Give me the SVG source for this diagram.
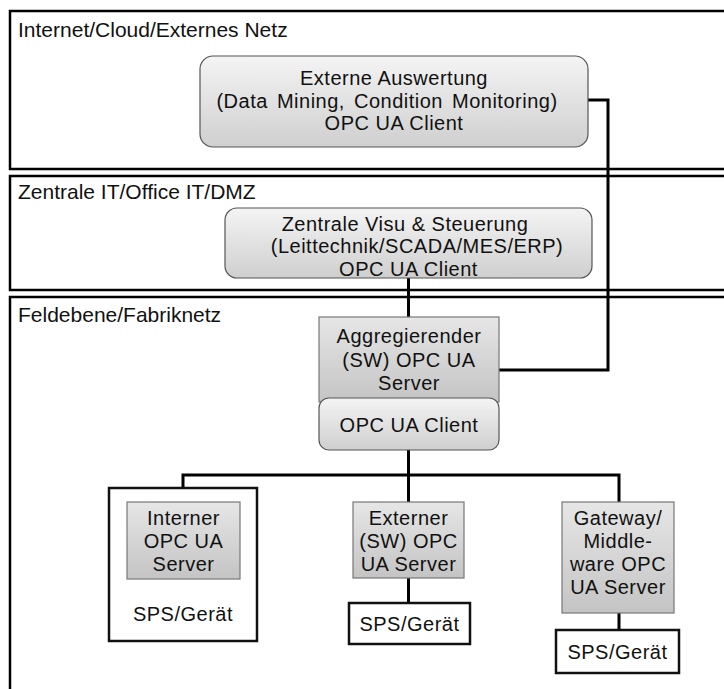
<svg xmlns="http://www.w3.org/2000/svg" width="724" height="689" viewBox="0 0 724 689">
  <style>
    text { font-family: "Liberation Sans", Arial, sans-serif; font-size: 20px; letter-spacing: 0.5px; fill: #111; }
    .zt { font-size: 21px; letter-spacing: 0; }
    .c { text-anchor: middle; }
    .zone { fill: #fff; stroke: #000; stroke-width: 2.5; }
    .rbox { fill: url(#gradLight); stroke: #555; stroke-width: 1.2; }
    .sbox { fill: url(#gradGray); stroke: #777; stroke-width: 1.2; }
    .wbox { fill: #fff; stroke: #111; stroke-width: 2.5; }
    .wire { fill: none; stroke: #000; stroke-width: 3; }
  </style>
  <defs>
    <linearGradient id="gradLight" x1="0" y1="0" x2="0" y2="1">
      <stop offset="0" stop-color="#f4f4f4"/>
      <stop offset="1" stop-color="#cfcfcf"/>
    </linearGradient>
    <linearGradient id="gradGray" x1="0" y1="0" x2="0" y2="1">
      <stop offset="0" stop-color="#e6e6e6"/>
      <stop offset="1" stop-color="#c4c4c4"/>
    </linearGradient>
  </defs>

  <rect width="724" height="689" fill="#fff"/>

  <!-- network zones -->
  <g id="zone-internet">
    <rect class="zone" x="10" y="11" width="730" height="158"/>
    <text class="zt" x="18" y="37">Internet/Cloud/Externes Netz</text>
  </g>
  <g id="zone-office">
    <rect class="zone" x="10" y="176" width="730" height="114"/>
    <text class="zt" x="18" y="199">Zentrale IT/Office IT/DMZ</text>
  </g>
  <g id="zone-field">
    <rect class="zone" x="10" y="297" width="730" height="410"/>
    <text class="zt" x="18" y="322">Feldebene/Fabriknetz</text>
  </g>

  <!-- connectors -->
  <g id="connectors">
    <polyline class="wire" points="588,100 608,100 608,370 499,370"/>
    <line class="wire" x1="408.5" y1="278" x2="408.5" y2="317"/>
    <line class="wire" x1="408.5" y1="450" x2="408.5" y2="502"/>
    <polyline class="wire" points="183,502 183,475 619,475 619,502"/>
    <line class="wire" x1="408.5" y1="578" x2="408.5" y2="603"/>
    <line class="wire" x1="619" y1="613" x2="619" y2="630"/>
  </g>

  <g id="externe-auswertung">
    <rect class="rbox" x="200" y="56" width="388" height="91" rx="13"/>
    <text class="c" x="394" y="85">Externe Auswertung<tspan x="387" dy="22.5" word-spacing="3">(Data Mining, Condition Monitoring)</tspan><tspan x="394" dy="22.5">OPC UA Client</tspan></text>
  </g>

  <g id="zentrale-visu">
    <rect class="rbox" x="225" y="208" width="367" height="70" rx="12"/>
    <text class="c" x="405" y="230.5">Zentrale Visu &amp; Steuerung<tspan x="417" dy="22.5">(Leittechnik/SCADA/MES/ERP)</tspan><tspan x="408.5" dy="22.5">OPC UA Client</tspan></text>
  </g>

  <g id="aggregierender-server">
    <rect class="sbox" x="319" y="317" width="180" height="85"/>
    <text class="c" x="409" y="343">Aggregierender<tspan x="409" dy="23.5">(SW) OPC UA</tspan><tspan x="409" dy="23.5">Server</tspan></text>
  </g>
  <g id="aggregierender-client">
    <rect class="rbox" x="319" y="398" width="180" height="52" rx="10"/>
    <text class="c" x="409" y="432">OPC UA Client</text>
  </g>

  <g id="geraet-intern">
    <rect class="wbox" x="109" y="488" width="148" height="153"/>
    <text class="c" x="183" y="621">SPS/Gerät</text>
  </g>
  <g id="interner-server">
    <rect class="sbox" x="127" y="502" width="113" height="77"/>
    <text class="c" x="183.5" y="525">Interner<tspan x="183.5" dy="23">OPC UA</tspan><tspan x="183.5" dy="23">Server</tspan></text>
  </g>

  <g id="externer-server">
    <rect class="sbox" x="353" y="502" width="111" height="76"/>
    <text class="c" x="408.5" y="525">Externer<tspan x="408.5" dy="23">(SW) OPC</tspan><tspan x="408.5" dy="23">UA Server</tspan></text>
  </g>
  <g id="geraet-extern">
    <rect class="wbox" x="349" y="603" width="121" height="41"/>
    <text class="c" x="409.5" y="631">SPS/Gerät</text>
  </g>

  <g id="gateway-server">
    <rect class="sbox" x="562" y="502" width="112" height="111"/>
    <text class="c" x="618" y="525">Gateway/<tspan x="618" dy="23">Middle-</tspan><tspan x="618" dy="23">ware OPC</tspan><tspan x="618" dy="23">UA Server</tspan></text>
  </g>
  <g id="geraet-gateway">
    <rect class="wbox" x="556" y="630" width="123" height="43"/>
    <text class="c" x="617.5" y="659">SPS/Gerät</text>
  </g>
</svg>
